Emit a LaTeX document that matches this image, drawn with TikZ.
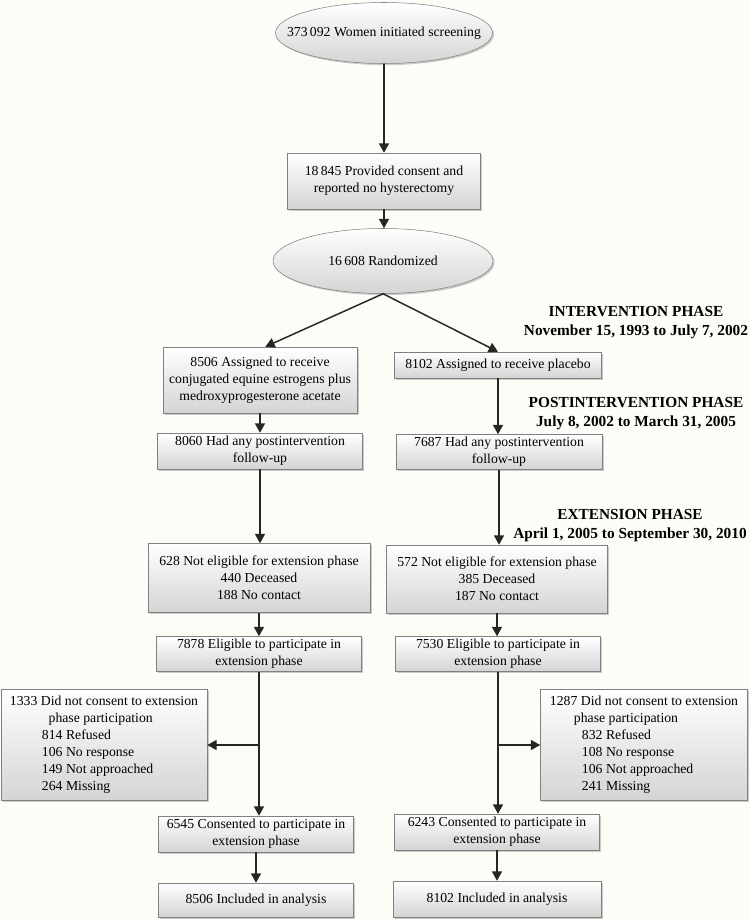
\documentclass[tikz,border=0pt]{standalone}
\usepackage{fontspec}
\setmainfont{Liberation Serif}
\usetikzlibrary{shapes.geometric, shadows, arrows.meta}
\definecolor{paper}{RGB}{253,253,248}
\definecolor{edge}{RGB}{128,128,128}
\definecolor{boxbottom}{RGB}{212,212,212}

\begin{document}
\begin{tikzpicture}[x=0.75pt, y=-0.75pt,
    box/.style={draw=edge, top color=white, bottom color=boxbottom, inner sep=0pt, align=center,
        drop shadow={shadow xshift=1.2pt, shadow yshift=-1.2pt, fill=black!40},
        font=\fontsize{10.3}{12.7}\selectfont},
    oval/.style={box, ellipse, inner xsep=-20pt},
    boxsize/.style 2 args={minimum width=#1*0.75pt, minimum height=#2*0.75pt},
    phase/.style={align=center, font=\bfseries\fontsize{11.5}{14.2}\selectfont},
    arrow/.style={-{Triangle[length=7pt, width=7.5pt]}, line width=1.1pt, black!85}]
    \fill[paper] (0,0) rectangle (750,920);

    % Screening and randomization
    \node[oval, boxsize={217}{61}] (scr) at (384,33) {373\,092 Women initiated screening};
    \node[box, boxsize={193}{56}] (cons) at (384,181) {18\,845 Provided consent and\\reported no hysterectomy};
    \node[oval, boxsize={220}{65}] (rand) at (383,261) {16\,608 Randomized};

    % Phase labels
    \node[phase] (intv) at (636,323) {INTERVENTION PHASE\\November 15, 1993 to July 7, 2002};
    \node[phase] (post) at (636,414) {POSTINTERVENTION PHASE\\July 8, 2002 to March 31, 2005};
    \node[phase] (ext) at (630,526) {EXTENSION PHASE\\April 1, 2005 to September 30, 2010};

    % Active treatment arm
    \node[box, boxsize={194}{66}] (act1) at (260,380) {8506 Assigned to receive\\conjugated equine estrogens plus\\medroxyprogesterone acetate};
    \node[box, boxsize={205}{36}] (act2) at (260,451) {8060 Had any postintervention\\follow-up};
    \node[box, boxsize={222}{69}] (act3) at (259,578) {628 Not eligible for extension phase\\440 Deceased\\188 No contact};
    \node[box, boxsize={205}{35}] (act4) at (259,654) {7878 Eligible to participate in\\extension phase};
    \node[box, boxsize={206}{111}, align=left] (actno) at (104,745) {1333 Did not consent to extension\\\hspace*{29pt}phase participation\\\hspace*{24pt}814 Refused\\\hspace*{24pt}106 No response\\\hspace*{24pt}149 Not approached\\\hspace*{24pt}264 Missing};
    \node[box, boxsize={195}{36}] (act5) at (256,834) {6545 Consented to participate in\\extension phase};
    \node[box, boxsize={195}{34}] (act6) at (256,900) {8506 Included in analysis};

    % Placebo arm
    \node[box, boxsize={207}{26}] (plc1) at (498,365) {8102 Assigned to receive placebo};
    \node[box, boxsize={206}{35}] (plc2) at (499,452) {7687 Had any postintervention\\follow-up};
    \node[box, boxsize={221}{68}] (plc3) at (497,579) {572 Not eligible for extension phase\\385 Deceased\\187 No contact};
    \node[box, boxsize={205}{35}] (plc4) at (498,654) {7530 Eligible to participate in\\extension phase};
    \node[box, boxsize={207}{111}, align=left] (plcno) at (644,745) {1287 Did not consent to extension\\\hspace*{18pt}phase participation\\\hspace*{24pt}832 Refused\\\hspace*{24pt}108 No response\\\hspace*{24pt}106 Not approached\\\hspace*{24pt}241 Missing};
    \node[box, boxsize={205}{36}] (plc5) at (497,832) {6243 Consented to participate in\\extension phase};
    \node[box, boxsize={208}{36}] (plc6) at (497,899) {8102 Included in analysis};

    % Connectors
    \draw[arrow] (scr.south) -- (scr.south |- cons.north);
    \draw[arrow] (cons.south) -- (cons.south |- rand.north);
    \draw[arrow] (rand.south) -- ([xshift=4pt]act1.north);
    \draw[arrow] (rand.south) -- (plc1.north);
    \draw[arrow] (act1.south) -- (act1.south |- act2.north);
    \draw[arrow] (act2.south) -- (act2.south |- act3.north);
    \draw[arrow] (act3.south) -- (act3.south |- act4.north);
    \draw[arrow] (act4.south) -- (act4.south |- act5.north);
    \draw[arrow] (act4.south |- actno.east) -- (actno.east);
    \draw[arrow] (act5.south) -- (act5.south |- act6.north);
    \draw[arrow] (plc1.south) -- (plc1.south |- plc2.north);
    \draw[arrow] (plc2.south) -- (plc2.south |- plc3.north);
    \draw[arrow] (plc3.south) -- (plc3.south |- plc4.north);
    \draw[arrow] (plc4.south) -- (plc4.south |- plc5.north);
    \draw[arrow] (plc4.south |- plcno.west) -- (plcno.west);
    \draw[arrow] (plc5.south) -- (plc5.south |- plc6.north);
\end{tikzpicture}
\end{document}
